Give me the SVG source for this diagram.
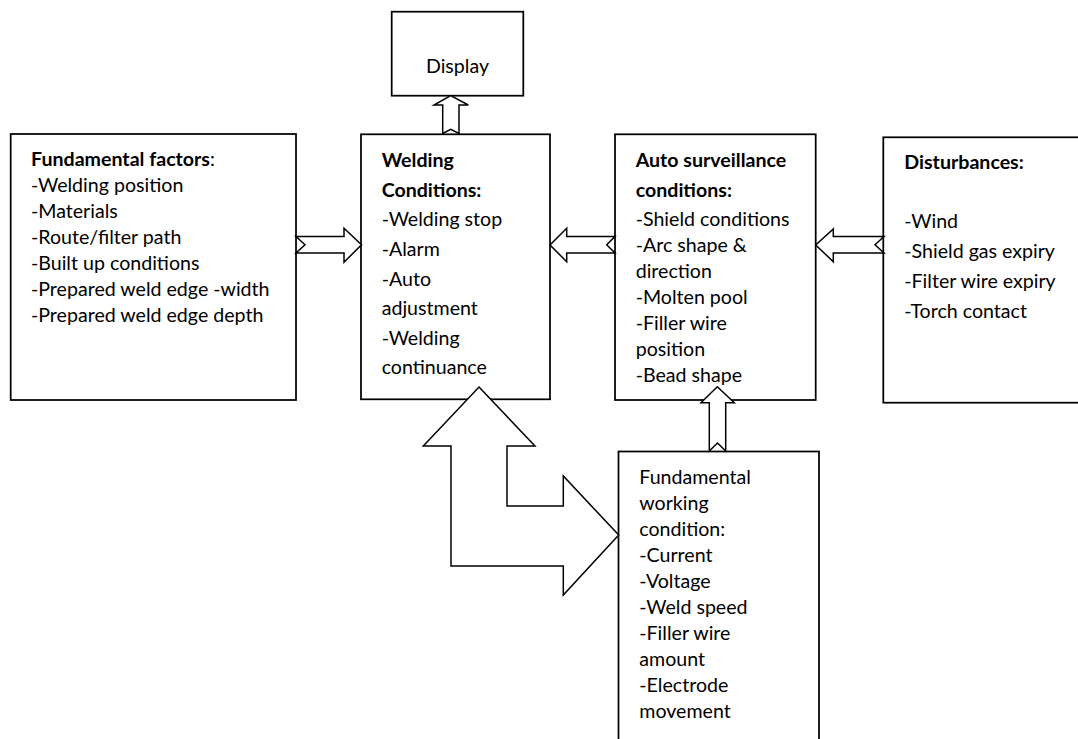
<svg xmlns="http://www.w3.org/2000/svg" width="1078" height="739" viewBox="0 0 1078 739">
<style>
.box{fill:#fff;stroke:#000;stroke-width:1.75}
.arr{fill:#fff;stroke:#000;stroke-width:1.5;stroke-linejoin:miter}
text{font-family:Lato,"Liberation Sans",sans-serif;font-size:19.6px;fill:#000}
.b{font-weight:bold}
</style>
<rect width="1078" height="739" fill="#fff"/>
<g id="display">
<rect class="box" x="391.7" y="11.7" width="131.6" height="84"/>
<text x="457.5" y="73" text-anchor="middle">Display</text>
</g>
<g id="fundamental-factors">
<rect class="box" x="10.7" y="134" width="285.3" height="266"/>
<text x="31" y="166"><tspan class="b">Fundamental factors</tspan>:</text>
<text x="31" y="192">-Welding position</text>
<text x="31" y="218">-Materials</text>
<text x="31" y="244">-Route/filter path</text>
<text x="31" y="270">-Built up conditions</text>
<text x="31" y="296">-Prepared weld edge -width</text>
<text x="31" y="322">-Prepared weld edge depth</text>
</g>
<g id="welding-conditions">
<rect class="box" x="361" y="134.3" width="189" height="265"/>
<text class="b" x="381.7" y="167">Welding</text>
<text class="b" x="381.7" y="196.5">Conditions:</text>
<text x="381.7" y="226">-Welding stop</text>
<text x="381.7" y="256">-Alarm</text>
<text x="381.7" y="285.5">-Auto</text>
<text x="381.7" y="315">adjustment</text>
<text x="381.7" y="344.5">-Welding</text>
<text x="381.7" y="374">continuance</text>
</g>
<g id="auto-surveillance">
<rect class="box" x="615" y="134.3" width="200.7" height="265.7"/>
<text class="b" x="635.7" y="167">Auto surveillance</text>
<text class="b" x="635.7" y="196.5">conditions:</text>
<text x="635.7" y="226">-Shield conditions</text>
<text x="635.7" y="252">-Arc shape &amp;</text>
<text x="635.7" y="278">direction</text>
<text x="635.7" y="304">-Molten pool</text>
<text x="635.7" y="330">-Filler wire</text>
<text x="635.7" y="356">position</text>
<text x="635.7" y="382">-Bead shape</text>
</g>
<g id="disturbances">
<rect class="box" x="883.3" y="137.3" width="220" height="265.4"/>
<text class="b" x="904.3" y="168.5">Disturbances:</text>
<text x="904.3" y="228">-Wind</text>
<text x="904.3" y="258">-Shield gas expiry</text>
<text x="904.3" y="288">-Filter wire expiry</text>
<text x="904.3" y="318">-Torch contact</text>
</g>
<g id="fundamental-working">
<rect class="box" x="618.5" y="451.5" width="200.5" height="320"/>
<text x="639.3" y="484">Fundamental</text>
<text x="639.3" y="510">working</text>
<text x="639.3" y="536">condition:</text>
<text x="639.3" y="562">-Current</text>
<text x="639.3" y="588">-Voltage</text>
<text x="639.3" y="614">-Weld speed</text>
<text x="639.3" y="640">-Filler wire</text>
<text x="639.3" y="666">amount</text>
<text x="639.3" y="692">-Electrode</text>
<text x="639.3" y="718">movement</text>
</g>
<g id="connectors">
<polygon class="arr" points="296,236.5 344,236.5 344,228.3 361.5,244.7 344,262.3 344,253 296,253 305,244.7"/>
<polygon class="arr" points="615,236.5 566.7,236.5 566.7,228.3 550,245 566.7,261.7 566.7,253 615,253 606.7,244.7"/>
<polygon class="arr" points="884,236.5 833.3,236.5 833.3,229 815.7,245 833.3,261.7 833.3,253 884,253 875,244.7"/>
<polygon class="arr" points="442.7,133.5 442.7,105 434,105 450.7,95.7 468.3,105 459,105 459,133.5 450.7,129.3"/>
<polygon class="arr" points="709.3,451 709.3,402.7 701,402.7 717.3,386.7 734.3,402.7 725.7,402.7 725.7,451 717.5,443"/>
<polygon class="arr" points="479,387 535,446 507,446 507,506 563.3,506 563.3,476 618.7,535 563.3,595 563.3,566 451,566 451,446 423.3,446"/>
</g>
</svg>
